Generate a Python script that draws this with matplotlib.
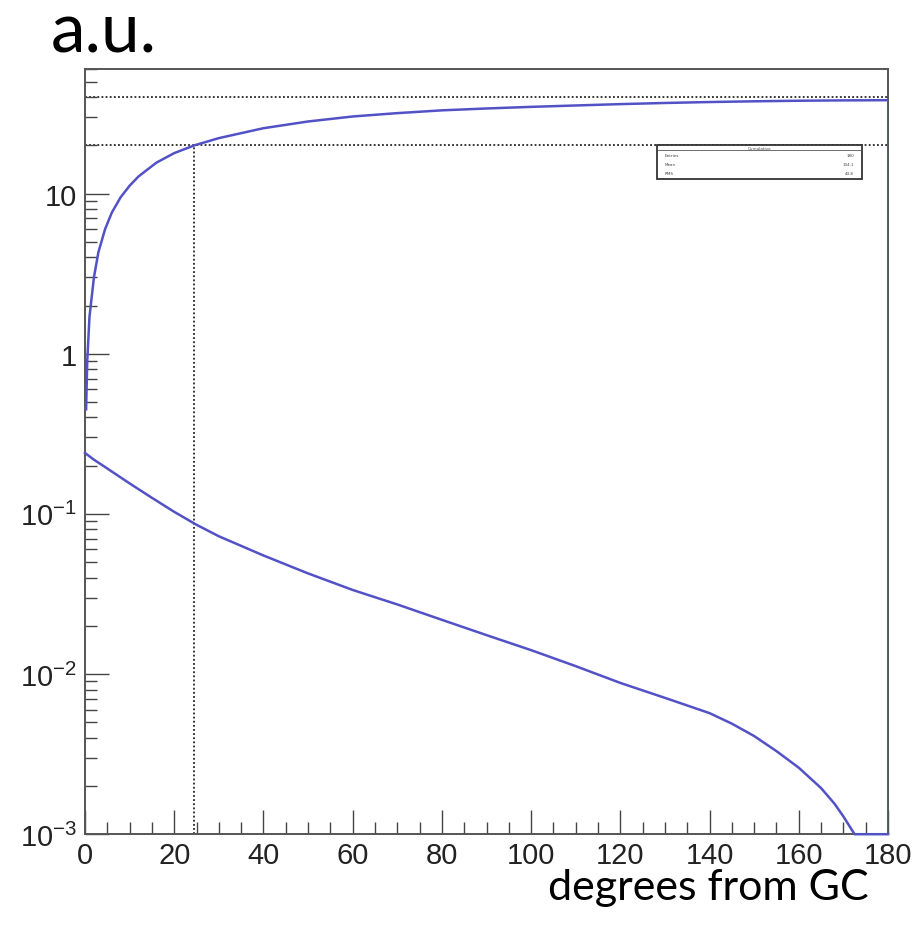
import numpy as np
import matplotlib
matplotlib.use("Agg")
import matplotlib.pyplot as plt
from matplotlib.ticker import LogLocator, FixedLocator, MultipleLocator, NullFormatter

plt.rcParams['mathtext.fontset'] = 'custom'
plt.rcParams['mathtext.rm'] = 'Liberation Sans'
plt.rcParams['mathtext.it'] = 'Liberation Sans'
plt.rcParams['mathtext.sf'] = 'Liberation Sans'

# angular profile (degrees from GC)
density_deg = [0, 2, 5, 10, 15, 20, 25, 30, 40, 50, 60, 70, 80, 90, 100, 110, 120, 130,
               140, 145, 150, 155, 160, 165, 168, 170, 172.5, 175, 178, 180]
density_val = [0.24, 0.218, 0.192, 0.155, 0.126, 0.103, 0.0855, 0.0725, 0.055, 0.0425,
               0.0335, 0.0272, 0.0218, 0.0175, 0.0141, 0.0112, 0.0088, 0.0071,
               0.0057, 0.0049, 0.0041, 0.0033, 0.0026, 0.00194, 0.00155, 0.00129,
               0.0010, 0.0006, 0.0002, 0.00005]

cumul_deg = [0.25, 0.5, 1, 2, 3, 4.5, 6, 8, 10, 12, 16, 20, 24.5, 30, 40, 50, 60, 70,
             80, 90, 100, 110, 120, 130, 140, 150, 160, 170, 180]
cumul_val = [0.45, 0.9, 1.7, 3.0, 4.3, 6.0, 7.6, 9.5, 11.2, 12.8, 15.6, 17.9, 20.0, 22.2,
             25.6, 28.2, 30.3, 31.8, 33.1, 34.0, 34.8, 35.5, 36.2, 36.8, 37.3, 37.7, 38.0,
             38.2, 38.3]

total_level = 40
half_level = 20
half_deg = 24.5

ymin, ymax = 1e-3, 60
blue = '#5252c6'

fig = plt.figure(figsize=(9.19, 9.28), dpi=100)
ax = fig.add_axes([0.0925, 0.100, 0.8738, 0.8246])
ax.set_yscale('log')
ax.set_xlim(0, 180)
ax.set_ylim(ymin, ymax)

# reference lines
ax.axhline(total_level, color='black', ls=(0, (1.2, 1.5)), lw=1.1, zorder=1)
ax.axhline(half_level, color='black', ls=(0, (1.2, 1.5)), lw=1.1, zorder=1)
ax.vlines(half_deg, ymin, half_level, color='black', ls=(0, (1.2, 1.5)), lw=1.1, zorder=1)

# curves
ax.plot(density_deg, np.clip(density_val, ymin, None), color=blue, lw=1.8, zorder=3, clip_on=False)
ax.plot(cumul_deg, cumul_val, color=blue, lw=1.8, zorder=3)
ax.vlines(cumul_deg[-1], ymin, cumul_val[-1], color=blue, lw=2.2, zorder=3)

# ROOT-like axes
for s in ax.spines.values():
    s.set_color('#555555')
    s.set_linewidth(1.4)
ax.xaxis.set_major_locator(MultipleLocator(20))
ax.xaxis.set_minor_locator(MultipleLocator(5))
ax.yaxis.set_major_locator(FixedLocator([1e-3, 1e-2, 1e-1, 1, 10]))
ax.yaxis.set_minor_locator(LogLocator(base=10, subs=np.arange(2, 10), numticks=20))
ax.yaxis.set_minor_formatter(NullFormatter())
ax.set_yticklabels(['$10^{-3}$', '$10^{-2}$', '$10^{-1}$', '1', '10'])
ax.tick_params(which='both', direction='in', top=False, right=False, color='#444444',
               labelsize=21, width=1.0)
ax.tick_params(which='major', length=17)
ax.tick_params(which='minor', length=8.5)
ax.tick_params(axis='x', pad=5)
ax.tick_params(axis='y', pad=6)
for lab in ax.get_xticklabels() + ax.get_yticklabels():
    lab.set_fontfamily('Liberation Sans')
    lab.set_color('#222222')

# tiny stats box
bx0, bx1, by0, by1 = 0.712, 0.968, 0.856, 0.900
ax.add_patch(plt.Rectangle((bx0, by0), bx1 - bx0, by1 - by0, transform=ax.transAxes,
                           facecolor='white', edgecolor='#333333', lw=1.3, zorder=5))
ax.plot([bx0, bx1], [0.894, 0.894], transform=ax.transAxes, color='#555555', lw=0.6, zorder=6)
ax.text((bx0 + bx1) / 2, 0.897, 'Cumulative', transform=ax.transAxes, fontsize=3,
        ha='center', va='center', color='#444444', zorder=6)
for i, (name, val) in enumerate([('Entries', '180'), ('Mean', '134.1'), ('RMS', '43.8')]):
    yy = 0.887 - i * 0.0115
    ax.text(bx0 + 0.01, yy, name, transform=ax.transAxes, fontsize=3, va='center',
            color='#444444', zorder=6)
    ax.text(bx1 - 0.01, yy, val, transform=ax.transAxes, fontsize=3, va='center',
            ha='right', color='#444444', zorder=6)

fig.text(0.055, 0.943, 'a.u.', fontsize=50, family='Lato', color='black', va='baseline')
fig.text(0.945, 0.030, 'degrees from GC', fontsize=31, family='Lato', color='black',
         ha='right', va='baseline')

fig.savefig('out.png', dpi=100)
